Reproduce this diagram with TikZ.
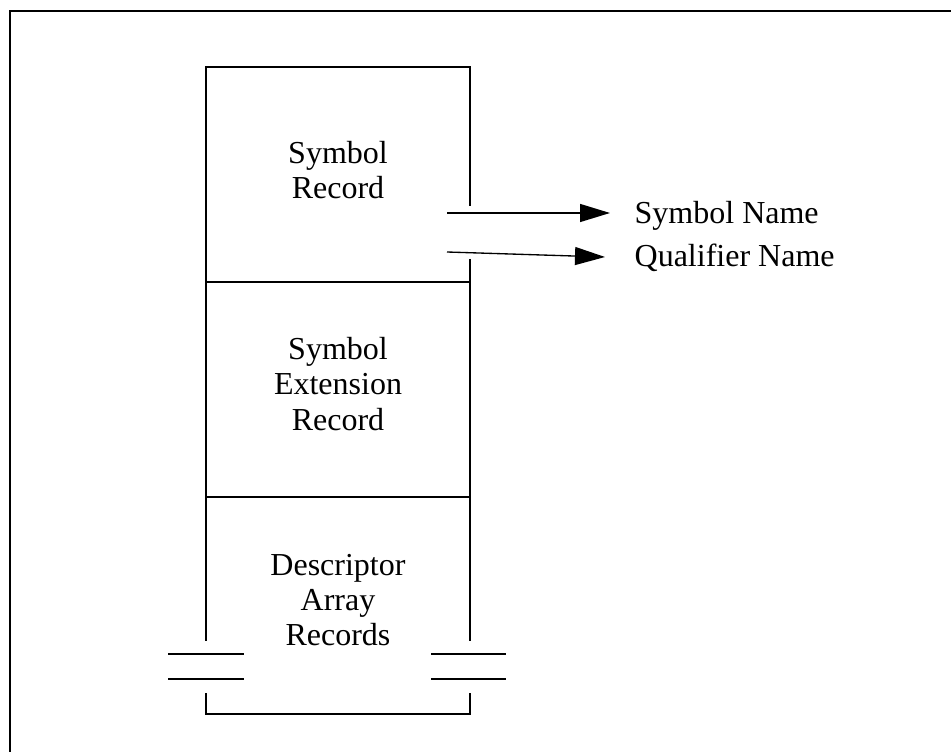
\documentclass[tikz,border=0pt]{standalone}
\usepackage{fontspec}
\setmainfont{Liberation Serif}
\usetikzlibrary{arrows.meta,positioning}

\begin{document}
\begin{tikzpicture}[x=0.75pt,y=-0.75pt,line width=1pt,
	rec/.style={align=center,font=\fontsize{24}{26.5}\selectfont},
	lbl/.style={anchor=west,inner sep=0pt,font=\fontsize{24}{26.5}\selectfont},
	arr/.style={-{Triangle[length=22.5pt,width=13.5pt]}}]
	\clip (0,0) rectangle (951,752);
	\draw[line width=1.6pt] (10,11) rectangle (990,790);
	
	% record column
	\draw (470,206) -- (470,67) -- (206,67) -- (206,641);
	\draw (470,259) -- (470,641);
	\draw (206,282) -- (470,282);
	\draw (206,497) -- (470,497);
	
	% break marks
	\draw (168,654) -- (244,654);
	\draw (168,679) -- (244,679);
	\draw (431,654) -- (506,654);
	\draw (431,679) -- (506,679);
	\draw (206,693) -- (206,714) -- (470,714) -- (470,693);
	
	\node[rec] (symrec) at (338,170) {Symbol\\Record};
	\node[rec] (extrec) at (338,384) {Symbol\\Extension\\Record};
	\node[rec] (descrec) at (338,600) {Descriptor\\Array\\Records};
	
	\node[lbl] (symname) at (634,216) {Symbol Name};
	\node[lbl] (qualname) at (634,258) {Qualifier Name};
	
	\coordinate (symout) at (447,213);
	\coordinate (qualout) at (447,252);
	\coordinate (symtip) at (610,213);
	\coordinate (qualtip) at (605,257);
	\draw[arr] (symout) -- (symtip);
	\draw[arr] (qualout) -- (qualtip);
\end{tikzpicture}
\end{document}
